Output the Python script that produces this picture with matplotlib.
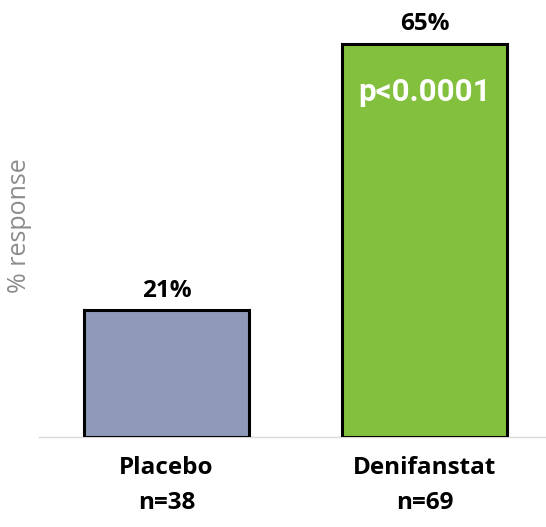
import matplotlib.pyplot as plt

categories = ["Placebo\nn=38", "Denifanstat\nn=69"]
values = [21, 65]
value_labels = ["21%", "65%"]
bar_colors = ["#8f9ab8", "#82c03e"]
p_value = "p<0.0001"

fig = plt.figure(figsize=(5.46, 5.27), dpi=100)
ax = fig.add_axes([39 / 546, 90 / 527, 507 / 546, 437 / 527])

x = list(range(len(categories)))
ax.bar(x, values, width=0.64, color=bar_colors, edgecolor="black", linewidth=2.2, zorder=2)

for xi, v, lab in zip(x, values, value_labels):
    ax.text(xi, v + 1.2, lab, ha="center", va="bottom", fontsize=17.5,
            fontweight="bold", family="Open Sans", color="black")

ax.text(1, 57.0, p_value, ha="center", va="center", fontsize=22.5,
        fontweight="bold", family="Roboto", color="white")

ax.set_xlim(-0.494, 1.471)
ax.set_ylim(0, 72.2)

for side in ["top", "right", "left"]:
    ax.spines[side].set_visible(False)
ax.spines["bottom"].set_color("#d9d9d9")
ax.spines["bottom"].set_linewidth(1)
ax.spines["bottom"].set_zorder(1)

ax.set_yticks([])
ax.set_xticks(x)
ax.set_xticklabels(categories, fontsize=17.5, fontweight="bold", family="Open Sans",
                   linespacing=1.6)
ax.tick_params(axis="x", length=0, pad=14)

fig.text(20 / 546, 1 - 226 / 527, "% response", rotation=90, ha="center", va="center",
         fontsize=18, family="Open Sans", color="#8c8c8c")

fig.savefig("out.png", dpi=100)
